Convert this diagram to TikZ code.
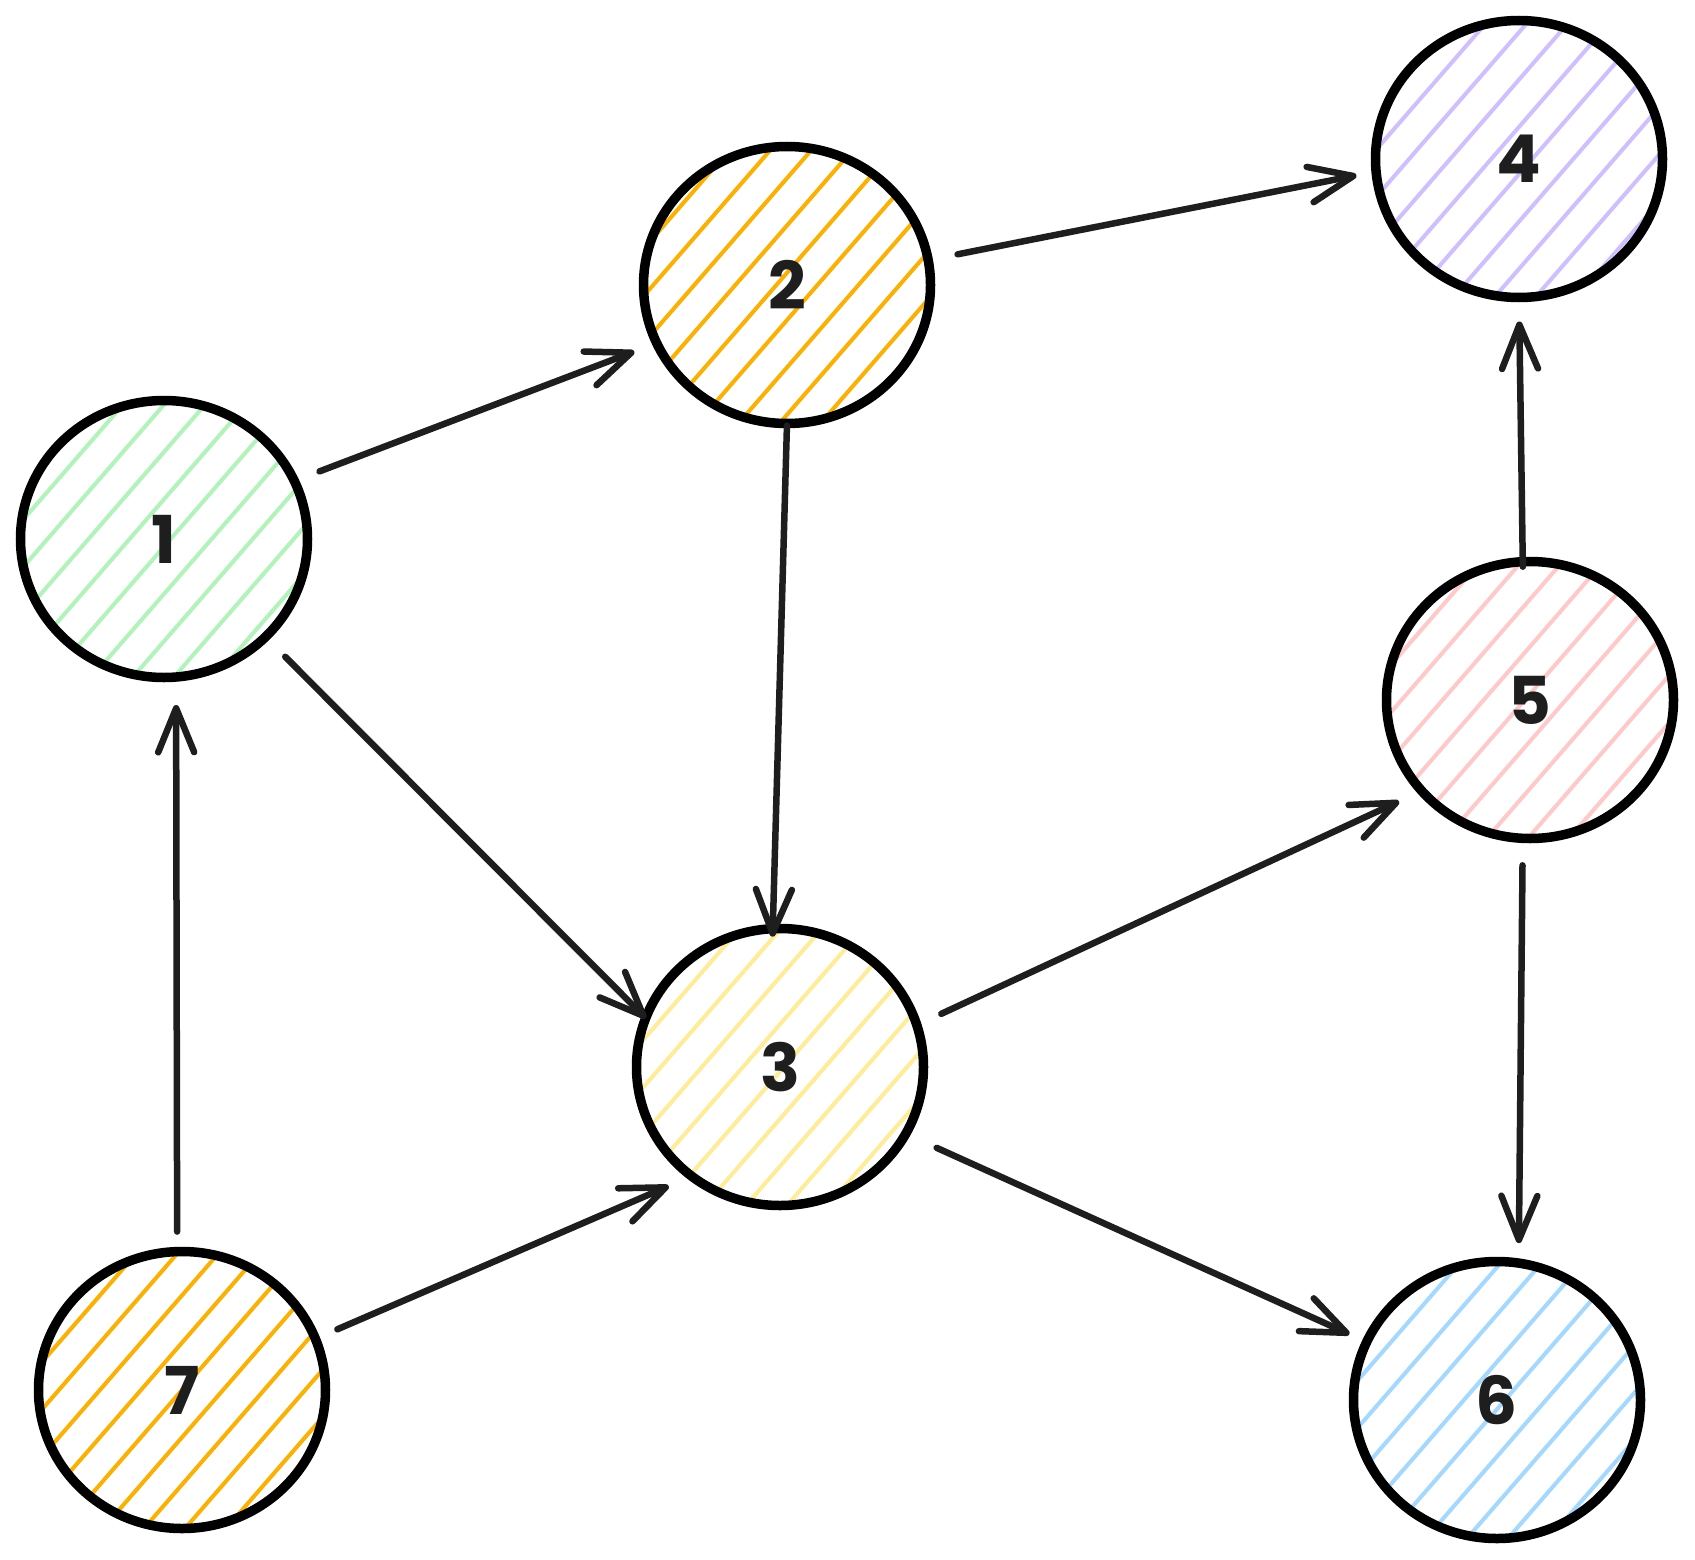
\documentclass[tikz,border=0pt]{standalone}
\usepackage{fontspec}
\setmainfont{Poppins}
\usetikzlibrary{arrows.meta,calc,shapes.geometric}
\definecolor{ink}{HTML}{1E1E1E}
\definecolor{hgreen}{HTML}{B2F2BB}
\definecolor{horange}{HTML}{FAB005}
\definecolor{hyellow}{HTML}{FFEC99}
\definecolor{hviolet}{HTML}{D0BFFF}
\definecolor{hpink}{HTML}{FFC9C9}
\definecolor{hblue}{HTML}{A5D8FF}
\newcommand\hatchcirc[3]{%
  \begin{scope}
    \clip (#1) ellipse [x radius=141, y radius=136];
    \foreach \k in {-5,...,5}{
      \draw[hatch,#2] ($(#1)+(\k*31*0.755+#3*0.755+131,\k*31*0.656+#3*0.656-151)$) --
                      ($(#1)+(\k*31*0.755+#3*0.755-131,\k*31*0.656+#3*0.656+151)$);
    }
  \end{scope}}
\begin{document}
\begin{tikzpicture}[x=1pt,y=-1pt,
  bubble/.style={ellipse,draw=black,line width=9.5pt,minimum width=287pt,minimum height=277pt,
    inner sep=0pt,outer sep=0pt,font=\fontsize{66}{80}\selectfont\bfseries,text=ink},
  hatch/.style={line width=4pt,line cap=round},
  link/.style={draw=ink,line width=6.5pt,line cap=round,line join=round,
    -{Straight Barb[length=44pt,width=36pt,round]}}]
\useasboundingbox (0,0) rectangle (1695,1560);
\fill[white] (0,0) rectangle (1695,1560);
\coordinate (c1) at (164,539);
\coordinate (c2) at (787,285);
\coordinate (c3) at (780,1067);
\coordinate (c4) at (1519,159);
\coordinate (c5) at (1530,700);
\coordinate (c6) at (1497,1400);
\coordinate (c7) at (182,1390);
\hatchcirc{c1}{hgreen}{5}
\hatchcirc{c2}{horange}{-8}
\hatchcirc{c3}{hyellow}{3}
\hatchcirc{c4}{hviolet}{10}
\hatchcirc{c5}{hpink}{-4}
\hatchcirc{c6}{hblue}{6}
\hatchcirc{c7}{horange}{0}
\node[bubble] (n1) at (c1) {1};
\node[bubble] (n2) at (c2) {2};
\node[bubble] (n3) at (c3) {3};
\node[bubble] (n4) at (c4) {4};
\node[bubble] (n5) at (c5) {5};
\node[bubble] (n6) at (c6) {6};
\node[bubble] (n7) at (c7) {7};
\draw[link,shorten <=27pt,shorten >=24pt] (n1.24) -- (n2.204);
\draw[link,shorten <=28pt,shorten >=0pt] (n1.-44) -- (n3.160);
\draw[link,shorten <=2pt,shorten >=-8pt] (n2.-90) -- (n3.93);
\draw[link,shorten <=30pt,shorten >=20pt] (n2.10) -- (n4.185);
\draw[link,shorten <=-5pt,shorten >=24pt] (n5.93) -- (n4.-90);
\draw[link,shorten <=27pt,shorten >=25pt] (n3.17) -- (n5.220);
\draw[link,shorten <=27pt,shorten >=20pt] (n5.-93) -- (n6.81);
\draw[link,shorten <=34pt,shorten >=19pt] (n3.-28) -- (n6.156);
\draw[link,shorten <=20pt,shorten >=28pt] (n7.92) -- (n1.-85);
\draw[link,shorten <=24pt,shorten >=25pt] (n7.21) -- (n3.231);
\end{tikzpicture}
\end{document}
